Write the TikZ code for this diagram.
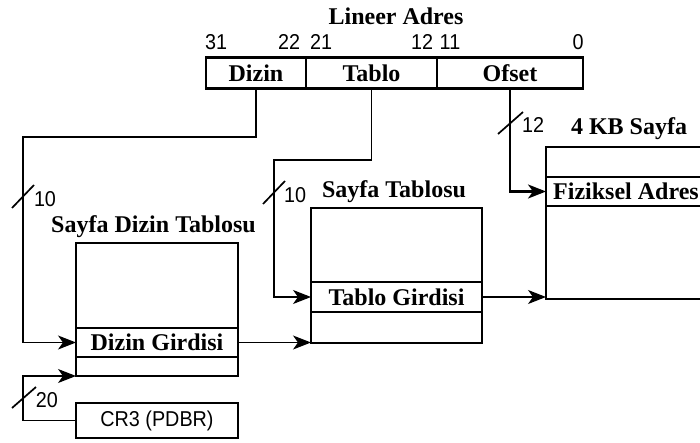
\documentclass[tikz,border=0pt]{standalone}
\usepackage{fontspec}
\setmainfont{Liberation Serif}
\setsansfont{Liberation Sans}
\usetikzlibrary{arrows.meta}
\begin{document}
\begin{tikzpicture}[x=1pt,y=-1pt,
  thinln/.style={line width=1.1pt},
  midln/.style={line width=1.7pt},
  thickln/.style={line width=2.4pt},
  wire/.style={line width=1.2pt},
  arr/.style={-{Stealth[length=18pt,width=14pt,inset=5pt]}},
  box/.style={draw, line width=1.1pt, inner sep=0pt, outer sep=0pt},
  lbl/.style={font=\fontsize{24}{27}\selectfont\bfseries, inner sep=0pt},
  num/.style={font=\sffamily\fontsize{21.5}{24}\selectfont, inner sep=0pt, xscale=0.92},
]
\useasboundingbox (0,0) rectangle (700,443);

% linear address with its three fields
\node[lbl, anchor=base] (title) at (396,25) {Lineer Adres};
\node[box, minimum width=100pt, minimum height=31pt, lbl] (dizin) at (256,73) {Dizin};
\node[box, minimum width=131pt, minimum height=31pt, lbl] (tablo) at (371.5,73) {Tablo};
\node[box, minimum width=146pt, minimum height=31pt, lbl] (ofset) at (510,73) {Ofset};
\draw[thickln] (dizin.north west) rectangle (ofset.south east);
\draw[thickln] (dizin.north east) -- (dizin.south east);

% bit positions
\node[num, anchor=base] (b31) at (216,50) {31};
\node[num, anchor=base] (b22) at (289,50) {22};
\node[num, anchor=base] (b21) at (321,50) {21};
\node[num, anchor=base] (b12) at (422,50) {12};
\node[num, anchor=base] (b11) at (450,50) {11};
\node[num, anchor=base] (b0) at (578,50) {0};

% page directory
\node[lbl, anchor=base] (pdtname) at (153.5,233) {Sayfa Dizin Tablosu};
\node[box, minimum width=162pt, minimum height=133pt] (pdt) at (157,309.5) {};
\node[box, minimum width=162pt, minimum height=29pt, lbl] (dgir) at (157,342.5) {Dizin Girdisi};
\draw[thickln] (pdt.north east) -- (pdt.south east) -- (pdt.south west);
\draw[thickln] (dgir.north west) -- (dgir.north east);

% CR3 register
\node[box, minimum width=162pt, minimum height=35pt] (cr3) at (157,420.5) {};
\node[num] (cr3text) at (157,421) {CR3 (PDBR)};
\draw[midln] (cr3.south west) -- (cr3.south east);

% page table
\node[lbl, anchor=base] (ptname) at (394,198) {Sayfa Tablosu};
\node[box, minimum width=171pt, minimum height=135pt] (pt) at (396.5,275.5) {};
\node[box, minimum width=171pt, minimum height=30pt, lbl] (tgir) at (396.5,297) {Tablo Girdisi};
\draw[thickln] (pt.north west) -- (pt.south west);
\draw[thickln] (pt.north east) -- (pt.south east);
\draw[midln] (pt.north west) -- (pt.north east);
\draw[midln] (pt.south west) -- (pt.south east);
\draw[midln] (tgir.south west) -- (tgir.south east);

% 4 KB page
\node[lbl, anchor=base] (pgname) at (629,135) {4 KB Sayfa};
\node[box, minimum width=174pt, minimum height=152pt] (page) at (633,223) {};
\node[box, minimum width=174pt, minimum height=29pt] (fiz) at (633,191.5) {};
\node[lbl, anchor=base west] (fiztext) at (553,200) {Fiziksel Adres};
\draw[thickln] (page.north west) -- (page.north east);
\draw[thickln] (fiz.north west) -- (fiz.north east);
\draw[thickln] (page.south west) -- (page.south east);

% connectors
\coordinate (dbend) at (23,137);
\coordinate (tbend) at (274,160);
\coordinate (cbend) at (23,376);
\draw[wire, arr] (dizin.south) |- (dbend) |- (dgir.west);
\draw[wire, arr] (tablo.south) |- (tbend) |- (tgir.west);
\draw[thickln, arr] (ofset.south) |- (fiz.west);
\draw[wire, arr] (dgir.east) -- (dgir.east -| pt.west);
\draw[wire, arr] (tgir.east) -- (tgir.east -| page.west);
\draw[wire, arr] (cr3.west) -| (cbend) -- (pdt.south west);

% bus widths
\draw[midln] (12,208) -- (34,185);
\node[num, anchor=base] (w10a) at (45,207) {10};
\draw[midln] (263,204) -- (285,181);
\node[num, anchor=base] (w10b) at (295,203) {10};
\draw[midln] (498,134) -- (523,112);
\node[num, anchor=base] (w12) at (533,133) {12};
\draw[midln] (12,408) -- (36,387);
\node[num, anchor=base] (w20) at (47,407) {20};
\end{tikzpicture}
\end{document}
